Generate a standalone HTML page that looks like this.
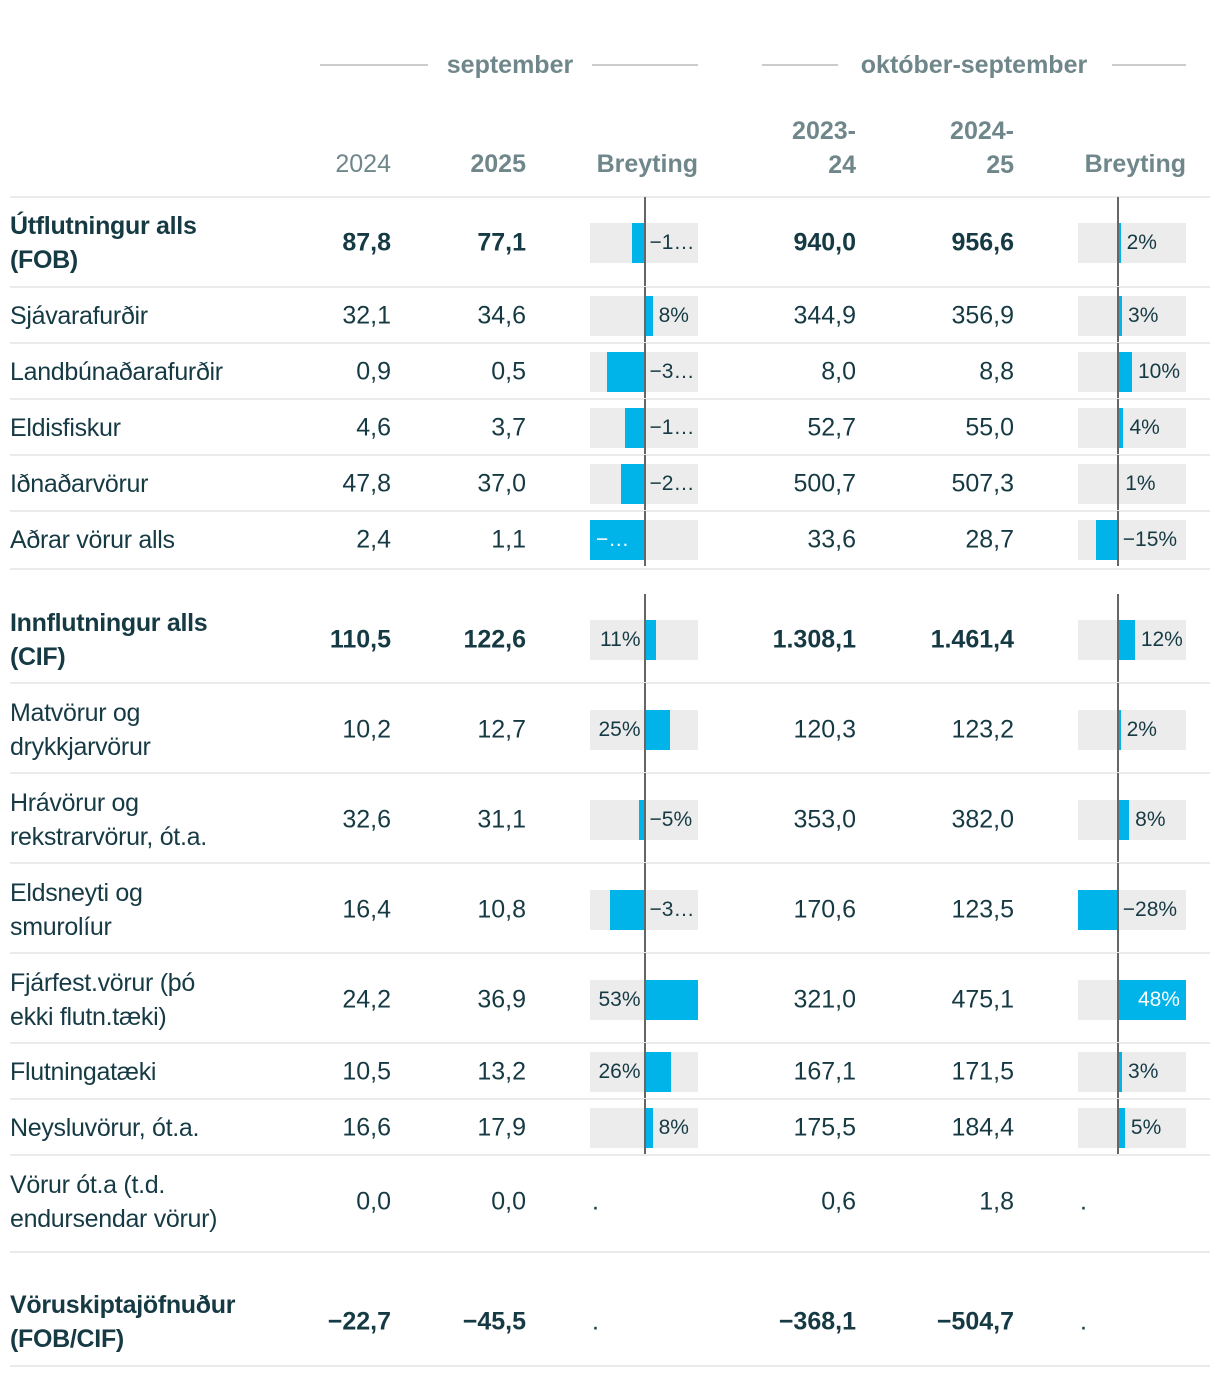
<!DOCTYPE html>
<html><head><meta charset="utf-8">
<style>
html,body{margin:0;padding:0;background:#fff;}
body{width:1220px;height:1376px;position:relative;overflow:hidden;font-family:"Liberation Sans",sans-serif;color:#163a44;}
.abs{position:absolute;}
.hdr{color:#6f878b;font-size:25px;}
.num{position:absolute;font-size:25px;text-align:right;white-space:nowrap;transform:translateY(-50%);}
.lbl{position:absolute;left:10px;font-size:25px;line-height:34px;transform:translateY(-50%);white-space:nowrap;letter-spacing:-0.3px;}
.b{font-weight:bold;}
.rule{position:absolute;left:10px;width:1200px;height:2px;background:#ebebeb;}
.box{position:absolute;width:108px;height:40px;background:#ececec;}
.bar{position:absolute;height:40px;background:#00b3e8;}
.axis{position:absolute;width:2px;background:#666;}
.pct{position:absolute;font-size:21px;line-height:40px;height:40px;white-space:nowrap;overflow:hidden;text-overflow:ellipsis;color:#163a44;}
</style></head>
<body>
<div id="tbl">
  <div class="abs" style="left:320px;top:64px;width:108px;height:2px;background:#ccc"></div>
  <div class="abs hdr b" style="left:430px;width:160px;text-align:center;top:51px">september</div>
  <div class="abs" style="left:592px;top:64px;width:106px;height:2px;background:#ccc"></div>
  <div class="abs" style="left:762px;top:64px;width:76px;height:2px;background:#ccc"></div>
  <div class="abs hdr b" style="left:838px;width:272px;text-align:center;top:51px">október-september</div>
  <div class="abs" style="left:1112px;top:64px;width:74px;height:2px;background:#ccc"></div>
  <div class="abs hdr" style="right:829px;top:150px">2024</div>
  <div class="abs hdr b" style="right:694px;top:150px">2025</div>
  <div class="abs hdr b" style="right:522px;top:150px">Breyting</div>
  <div class="abs hdr b" style="right:364px;top:114px;text-align:right;line-height:34px">2023-<br>24</div>
  <div class="abs hdr b" style="right:206px;top:114px;text-align:right;line-height:34px">2024-<br>25</div>
  <div class="abs hdr b" style="right:34px;top:150px">Breyting</div>
  <div class="rule" style="top:196px"></div>
</div>
<script>
const labels=["Útflutningur alls<br>(FOB)","Sjávarafurðir","Landbúnaðarafurðir","Eldisfiskur","Iðnaðarvörur","Aðrar vörur alls","Innflutningur alls<br>(CIF)","Matvörur og<br>drykkjarvörur","Hrávörur og<br>rekstrarvörur, ót.a.","Eldsneyti og<br>smurolíur","Fjárfest.vörur (þó<br>ekki flutn.tæki)","Flutningatæki","Neysluvörur, ót.a.","Vörur ót.a (t.d.<br>endursendar vörur)","Vöruskiptajöfnuður<br>(FOB/CIF)"];
const sep2024=["87,8","32,1","0,9","4,6","47,8","2,4","110,5","10,2","32,6","16,4","24,2","10,5","16,6","0,0","−22,7"];
const sep2025=["77,1","34,6","0,5","3,7","37,0","1,1","122,6","12,7","31,1","10,8","36,9","13,2","17,9","0,0","−45,5"];
const sepChange=[-12,8,-37,-19,-23,-54,11,25,-5,-34,53,26,8,null,null];
const okt2324=["940,0","344,9","8,0","52,7","500,7","33,6","1.308,1","120,3","353,0","170,6","321,0","167,1","175,5","0,6","−368,1"];
const okt2425=["956,6","356,9","8,8","55,0","507,3","28,7","1.461,4","123,2","382,0","123,5","475,1","171,5","184,4","1,8","−504,7"];
const oktChange=[2,3,10,4,1,-15,12,2,8,-28,48,3,5,null,null];
const boldRows=[0,6,14];

// layout (not data)
const rowTop=[197,287,343,399,455,511,569,683,773,863,953,1043,1099,1155,1252];
const rowBot=[287,343,399,455,511,569,683,773,863,953,1043,1099,1155,1252,1366];
const rowCenter=[243,316,372,428,484,540,640,730,820,910,1000,1072,1128,1202,1322];
const axisTopOverride={6:594};
const body=document.body;

function scaleFactory(vals,x0,w){
  const v=vals.filter(x=>x!==null);
  const mn=Math.min(0,...v), mx=Math.max(0,...v);
  return x=>x0+(x-mn)/(mx-mn)*w;
}
const sepX=scaleFactory(sepChange,590,108);
const oktX=scaleFactory(oktChange,1078,108);

function addNum(txt,right,y,bold,name){
  const d=document.createElement('div');
  d.className='num'+(bold?' b':'');
  d.style.right=(1220-right)+'px';d.style.top=y+'px';
  d.innerHTML=txt;
  
  
  body.appendChild(d);
}
function addBarCell(val,sc,x0,i,name){
  const yc=rowCenter[i];
  if(val===null){
    const d=document.createElement('div');
    d.className='num';d.style.left=(x0+2)+'px';d.style.top=yc+'px';d.textContent='.';
    
    
    body.appendChild(d);return;
  }
  const z=sc(0), e=sc(val);
  const box=document.createElement('div');
  box.className='box';box.style.left=x0+'px';box.style.top=(yc-20)+'px';
  
  
  body.appendChild(box);
  const bar=document.createElement('div');
  bar.className='bar';bar.style.left=Math.min(z,e)+'px';bar.style.width=Math.abs(e-z)+'px';bar.style.top=(yc-20)+'px';
  
  
  body.appendChild(bar);
  const ax=document.createElement('div');
  const at=axisTopOverride[i]||rowTop[i];
  ax.className='axis';ax.style.left=(z-1)+'px';ax.style.top=at+'px';ax.style.height=(rowBot[i]-at-(i===5?3:0))+'px';
  
  
  body.appendChild(ax);
  const t=document.createElement('div');
  t.className='pct';t.style.top=(yc-20)+'px';
  const txt=(val<0?'−':'')+Math.abs(val)+'%';
  t.textContent=txt;
  const right=x0+108, left=x0;
  const barW=Math.abs(e-z);
  if(val>=0){
    if(right-e>=45){t.style.left=(e+6)+'px';t.style.width=(right-e-7)+'px';}
    else if(z-left>=45){t.style.left=left+'px';t.style.width=(z-left-4)+'px';t.style.textAlign='right';}
    else {t.style.left=z+'px';t.style.width=(barW-6)+'px';t.style.textAlign='right';t.style.color='#fff';}
  } else {
    if(barW>(right-z)){t.style.left=(e+6)+'px';t.style.width=(barW-14)+'px';t.style.color='#fff';}
    else {t.style.left=(z+5)+'px';t.style.width=(right-z-5)+'px';}
  }
  
  
  body.appendChild(t);
}

labels.forEach((lab,i)=>{
  const bold=boldRows.includes(i);
  const l=document.createElement('div');
  l.className='lbl'+(bold?' b':'');l.style.top=rowCenter[i]+'px';l.innerHTML=lab;
  
  
  body.appendChild(l);
  addNum(sep2024[i],391,rowCenter[i],bold,'sep-2024-value');
  addNum(sep2025[i],526,rowCenter[i],bold,'sep-2025-value');
  addBarCell(sepChange[i],sepX,590,i,'sep-change');
  addNum(okt2324[i],856,rowCenter[i],bold,'okt-2023-24-value');
  addNum(okt2425[i],1014,rowCenter[i],bold,'okt-2024-25-value');
  addBarCell(oktChange[i],oktX,1078,i,'okt-change');
  const r=document.createElement('div');
  r.className='rule';r.style.top=(rowBot[i]-1)+'px';
  
  
  body.appendChild(r);
});
</script>
</body></html>
